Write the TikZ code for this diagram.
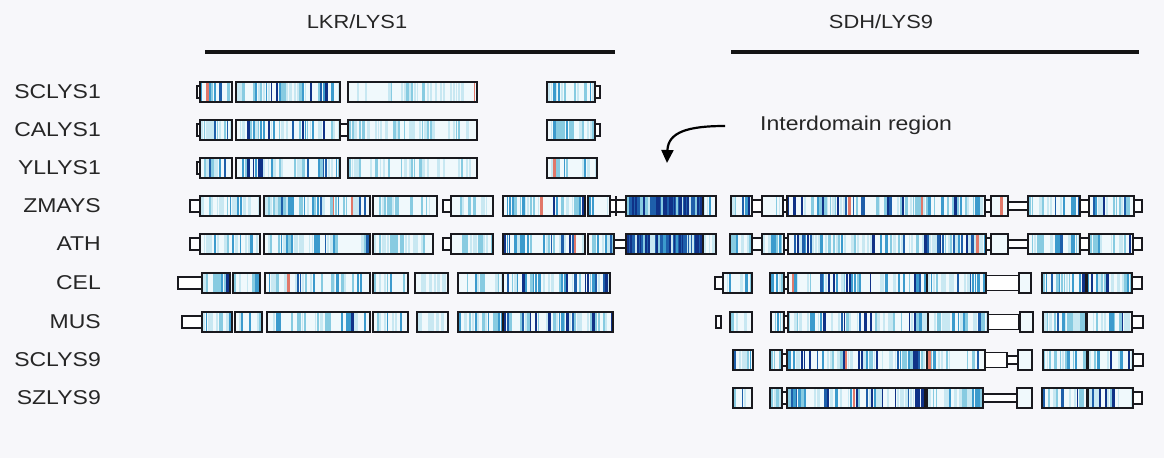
\documentclass[tikz,border=0pt]{standalone}
\usepackage{fontspec}
\setmainfont{Liberation Sans}[FakeStretch=1.15]
\usetikzlibrary{arrows.meta}
\definecolor{bg}{RGB}{247,247,250}
\definecolor{sA}{RGB}{200,232,242}
\definecolor{sB}{RGB}{135,203,225}
\definecolor{sC}{RGB}{60,155,205}
\definecolor{sD}{RGB}{30,95,170}
\definecolor{sE}{RGB}{15,50,135}
\definecolor{sR}{RGB}{225,120,105}
\definecolor{ol}{RGB}{25,25,30}
\definecolor{inb}{RGB}{240,249,252}
\newcommand\stripefill[4]{%
  \pgfmathsetmacro\stN{int(((#2)-(#1)-2)/2.6)}%
  \foreach \stI in {0,...,\stN}{%
    \pgfmathsetmacro\stX{#1+1+\stI*2.6}%
    \pgfmathsetmacro\stV{rnd*#4}%
    \pgfmathsetmacro\stW{min(1.2+rnd*1.8,#2-1-\stX)}%
    \pgfmathsetmacro\stQ{rnd}%
    \def\stC{}%
    \ifdim\stQ pt<0.012pt \def\stC{sR}\else
      \ifdim\stV pt<0.35pt \def\stC{}\else
        \ifdim\stV pt<0.6pt \def\stC{sA}\else
          \ifdim\stV pt<0.8pt \def\stC{sB}\else
            \ifdim\stV pt<0.92pt \def\stC{sC}\else
              \ifdim\stV pt<0.985pt \def\stC{sD}\else
                \def\stC{sE}%
              \fi
            \fi
          \fi
        \fi
      \fi
    \fi
    \ifx\stC\empty\else \fill[\stC] (\stX,#3-9) rectangle ++(\stW,18);\fi
  }%
}
\newcommand\blk[4]{%
  \fill[inb] (#1,#3-10) rectangle (#2,#3+10);
  \stripefill{#1}{#2}{#3}{#4}%
  \draw[ol,line width=1.6] (#1,#3-10) rectangle (#2,#3+10);}
\newcommand\dblk[3]{%
  \fill[sD] (#1,#3-10) rectangle (#2,#3+10);
  \stripefill{#1}{#2}{#3}{2.0}%
  \draw[ol,line width=1.6] (#1,#3-10) rectangle (#2,#3+10);}
\newcommand\capb[3]{\draw[ol,line width=1.4,fill=white] (#1,#3-6) rectangle (#2,#3+6);}
\newcommand\midb[3]{\draw[ol,line width=1.4,fill=white] (#1,#3-7.5) rectangle (#2,#3+7.5);}
\newcommand\lnk[3]{\draw[ol,line width=1.4,fill=white] (#1,#3-4) rectangle (#2,#3+4);}
\tikzset{
  lab/.style={anchor=east,inner sep=0pt,font=\fontsize{20}{20}\selectfont,text=black!85},
  ttl/.style={inner sep=0pt,font=\fontsize{19}{19}\selectfont,text=black!85},
  hline/.style={line width=3.2,black!92},
}
\begin{document}
\begin{tikzpicture}[x=1pt,y=-1pt]
\pgfmathsetseed{4711}
\useasboundingbox (0,0) rectangle (1164,458);
\fill[bg] (0,0) rectangle (1164,458);
% titles
\node[ttl] (t1) at (357,22) {LKR/LYS1};
\node[ttl] (t2) at (881,22) {SDH/LYS9};
\coordinate (l1a) at (205,52); \coordinate (l1b) at (615,52);
\coordinate (l2a) at (731,52); \coordinate (l2b) at (1139,52);
\draw[hline] (l1a) -- (l1b);
\draw[hline] (l2a) -- (l2b);
% row labels
\node[lab] (n1) at (101,92) {SCLYS1};
\node[lab] (n2) at (101,130) {CALYS1};
\node[lab] (n3) at (101,168) {YLLYS1};
\node[lab] (n4) at (101,206) {ZMAYS};
\node[lab] (n5) at (101,244) {ATH};
\node[lab] (n6) at (101,283) {CEL};
\node[lab] (n7) at (101,322) {MUS};
\node[lab] (n8) at (101,360) {SCLYS9};
\node[lab] (n9) at (101,398) {SZLYS9};
% interdomain
\node[anchor=west,inner sep=0pt,font=\fontsize{20}{20}\selectfont,text=black!85] (idr) at (760,125) {Interdomain region};
\coordinate (arrS) at (725,126);
\coordinate (arrE) at (667,163);
\draw[line width=2.2,-{Triangle[width=12pt,length=13pt]}] (arrS) .. controls (688,126) and (668,132) .. (arrE);
% row 1 SCLYS1
\capb{197}{200}{92}
\blk{200}{232}{92}{1.0}\blk{236}{340}{92}{1.1}\blk{348}{477}{92}{0.75}\blk{547}{595}{92}{1.0}\capb{595}{600}{92}
% row 2 CALYS1
\capb{197}{200}{130}
\blk{200}{232}{130}{1.0}\blk{236}{340}{130}{1.1}\capb{340}{348}{130}\blk{348}{477}{130}{0.75}\blk{547}{595}{130}{1.0}\capb{595}{600}{130}
% row 3 YLLYS1
\capb{197}{200}{168}
\blk{200}{232}{168}{1.0}\blk{236}{340}{168}{1.1}\blk{348}{477}{168}{0.75}\blk{547}{597}{168}{1.0}
% row 4 ZMAYS
\capb{190}{200}{206}\blk{200}{260}{206}{0.95}\blk{264}{370}{206}{1.0}\blk{373}{437}{206}{0.8}
\capb{443}{451}{206}\blk{451}{493}{206}{0.8}\blk{503}{585}{206}{1.1}\blk{588}{610}{206}{1.0}
\capb{610}{626}{206}\draw[ol,line width=1.3] (616,196) -- (616,216);
\dblk{626}{703}{206}\blk{703}{716}{206}{0.9}
\blk{731}{752}{206}{1.0}\capb{752}{762}{206}\blk{762}{783}{206}{0.9}\capb{783}{787}{206}
\blk{787}{985}{206}{1.12}\capb{985}{991}{206}\blk{991}{1008}{206}{0.2}\lnk{1008}{1028}{206}
\blk{1028}{1080}{206}{1.0}\capb{1080}{1089}{206}\blk{1089}{1134}{206}{1.0}\capb{1134}{1142}{206}
% row 5 ATH
\capb{190}{200}{244}\blk{200}{260}{244}{0.95}\blk{264}{370}{244}{1.0}\blk{373}{433}{244}{0.8}
\capb{443}{451}{244}\blk{451}{493}{244}{0.8}\blk{503}{585}{244}{1.1}\blk{588}{614}{244}{1.0}
\lnk{614}{626}{244}
\dblk{626}{703}{244}\blk{703}{716}{244}{0.9}
\blk{730}{752}{244}{1.2}\capb{752}{762}{244}\blk{762}{784}{244}{0.9}\capb{784}{788}{244}
\blk{788}{986}{244}{1.12}\capb{986}{991}{244}\blk{991}{1008}{244}{0.2}\lnk{1008}{1028}{244}
\blk{1028}{1080}{244}{1.0}\capb{1080}{1089}{244}\blk{1089}{1133}{244}{1.0}\capb{1133}{1142}{244}
% row 6 CEL
\capb{178}{202}{283}\blk{202}{230}{283}{1.0}\blk{233}{260}{283}{1.0}\blk{265}{370}{283}{1.0}
\blk{373}{408}{283}{0.85}\blk{415}{448}{283}{0.6}\blk{458}{503}{283}{0.9}\blk{503}{610}{283}{1.12}
\capb{715}{723}{283}\blk{723}{752}{283}{1.0}\blk{770}{784}{283}{0.9}\capb{784}{788}{283}
\blk{788}{927}{283}{1.15}\blk{927}{986}{283}{0.95}\midb{986}{1019}{283}\blk{1019}{1031}{283}{0.3}
\blk{1042}{1086}{283}{1.0}\blk{1087}{1132}{283}{1.1}\capb{1132}{1142}{283}
% row 7 MUS
\capb{182}{202}{322}\blk{202}{232}{322}{1.0}\blk{235}{262}{322}{1.0}\blk{267}{370}{322}{1.0}
\blk{373}{408}{322}{0.85}\blk{417}{448}{322}{0.6}\blk{458}{503}{322}{0.9}\blk{503}{613}{322}{1.12}
\capb{716}{721}{322}\blk{730}{752}{322}{1.0}\blk{771}{784}{322}{0.9}\capb{784}{788}{322}
\blk{788}{928}{322}{1.15}\blk{928}{988}{322}{0.95}\midb{988}{1019}{322}\blk{1020}{1033}{322}{0.3}
\blk{1043}{1086}{322}{1.0}\blk{1087}{1132}{322}{1.1}\capb{1132}{1143}{322}
% row 8 SCLYS9
\blk{733}{753}{360}{1.0}\blk{770}{782}{360}{0.9}\capb{782}{787}{360}
\blk{787}{927}{360}{1.15}\blk{927}{985}{360}{0.95}\midb{985}{1007}{360}\lnk{1007}{1018}{360}\blk{1018}{1032}{360}{0.3}
\blk{1043}{1087}{360}{1.0}\blk{1088}{1133}{360}{1.1}\capb{1133}{1143}{360}
% row 9 SZLYS9
\blk{733}{752}{398}{1.0}\blk{770}{782}{398}{0.9}\capb{782}{787}{398}
\blk{787}{925}{398}{1.15}\blk{927}{983}{398}{0.95}\lnk{983}{1017}{398}\blk{1017}{1032}{398}{0.3}
\blk{1042}{1087}{398}{1.0}\blk{1088}{1133}{398}{1.1}\capb{1133}{1142}{398}
\end{tikzpicture}
\end{document}
